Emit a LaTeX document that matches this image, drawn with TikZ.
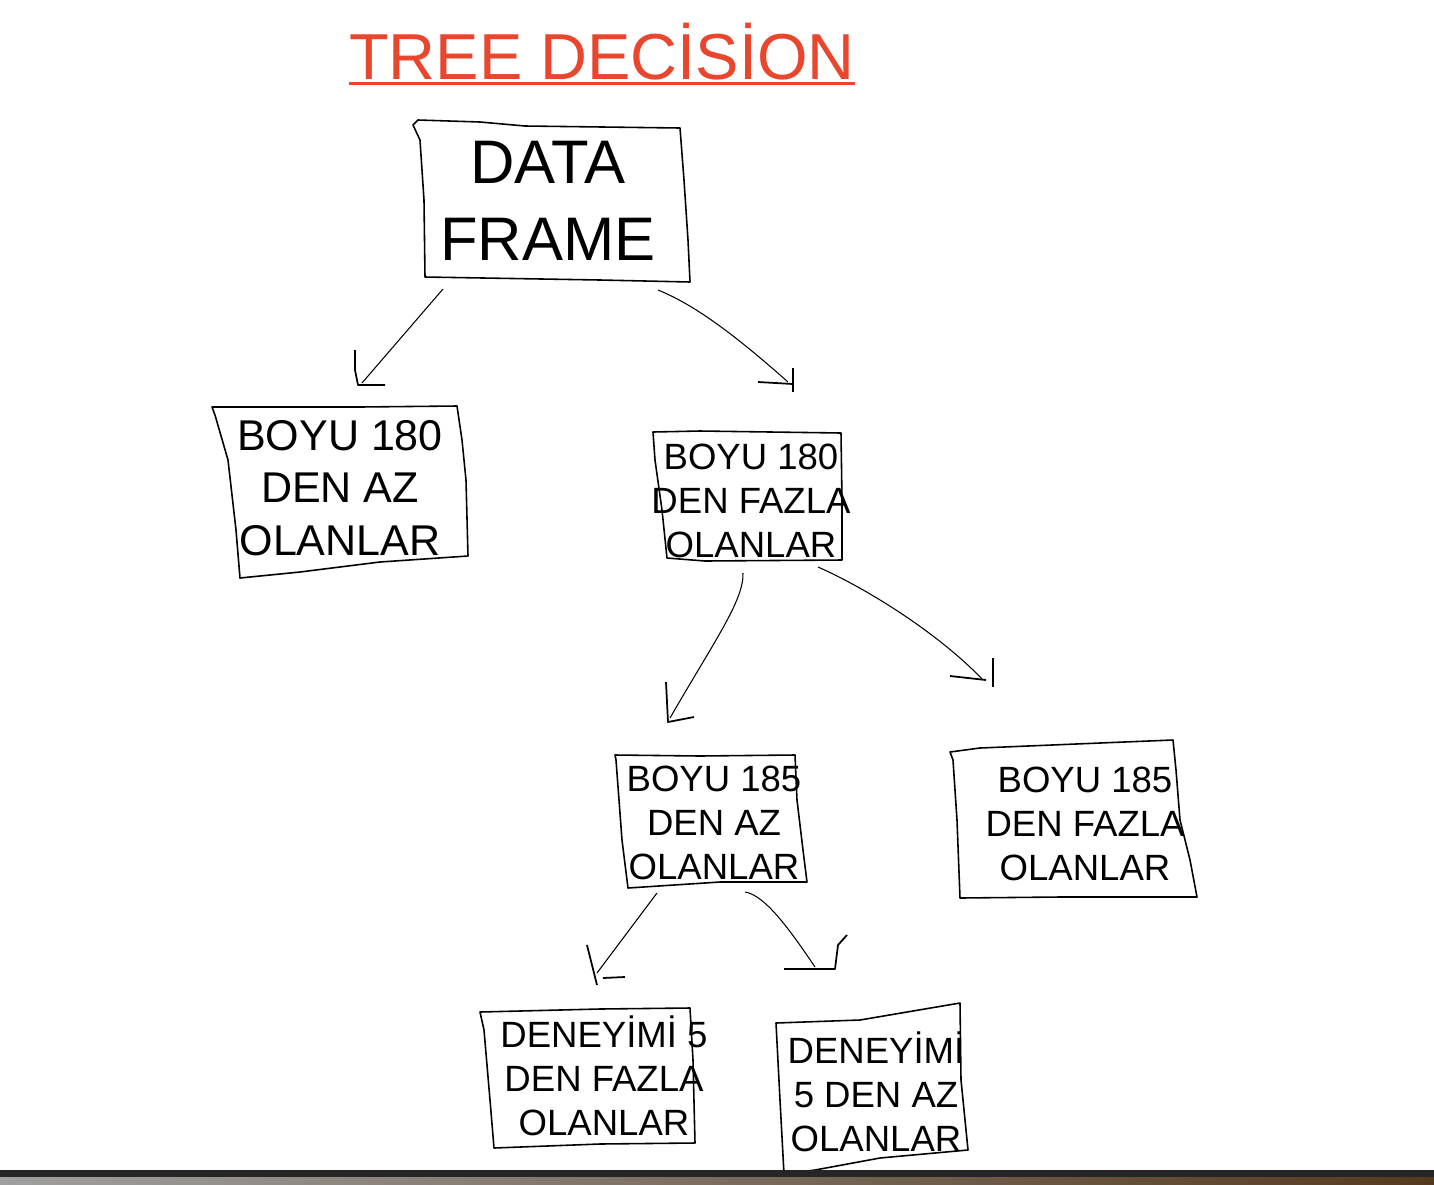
\documentclass[tikz,border=0pt]{standalone}
\usepackage{fontspec}
\setmainfont{Liberation Sans}
\usepackage{xcolor}
\usepackage{tikz}
\definecolor{titlered}{HTML}{E9462D}
\tikzstyle{headline} = [text=titlered, font=\fontsize{37}{44}\selectfont, inner sep=0pt, anchor=base]
\tikzstyle{bigbox} = [align=center, inner sep=0pt, font=\fontsize{35}{43.8}\selectfont]
\tikzstyle{midbox} = [align=center, inner sep=0pt, font=\fontsize{24.5}{29.9}\selectfont]
\tikzstyle{smallbox} = [align=center, inner sep=0pt, font=\fontsize{20.8}{25}\selectfont]
\tikzstyle{hand} = [line width=0.9pt, line join=round]
\tikzstyle{arrowline} = [line width=0.6pt]
\tikzstyle{barb} = [line width=1pt, line join=round]

\begin{document}
\begin{tikzpicture}[x=0.02cm, y=-0.02cm]
  \fill[white] (0,0) rectangle (1434,1184);
  \useasboundingbox (0,0) rectangle (1434,1184);

  % title
  \node (title) [headline] at (602,79) {TREE DEC\.ISİON};
  \draw [titlered, line width=1.7pt] ([yshift=-2.5pt]title.base west) -- ([yshift=-2.5pt]title.base east);

  % texts of the boxes
  \node (df)       [bigbox]   at (548,201)  {DATA\\FRAME};
  \node (az180)    [midbox]   at (340,488)  {BOYU 180\\DEN AZ\\OLANLAR};
  \node (fazla180) [smallbox] at (751,501)  {BOYU 180\\DEN FAZLA\\OLANLAR};
  \node (az185)    [smallbox] at (714,823)  {BOYU 185\\DEN AZ\\OLANLAR};
  \node (fazla185) [smallbox] at (1085,824) {BOYU 185\\DEN FAZLA\\OLANLAR};
  \node (fazla5)   [smallbox] at (604,1076) {DENEYİMİ 5\\DEN FAZLA\\OLANLAR};
  \node (az5)      [smallbox] at (876,1092) {DENEYİMİ\\5 DEN AZ\\OLANLAR};

  % hand drawn frames
  \draw [hand] (418,120) -- (480,122) -- (525,126) -- (680,128) -- (684,180) -- (688,240) -- (690,282)
    -- (600,280) -- (425,277) -- (424,200) -- (420,140) -- (413,125) -- cycle;
  \draw [hand] (212,407) -- (360,407) -- (457,406) -- (462,440) -- (466,480) -- (468,556)
    -- (380,562) -- (300,572) -- (240,578) -- (236,530) -- (228,460) -- (215,415) -- cycle;
  \draw [hand] (653,432) -- (700,431) -- (841,433) -- (842,500) -- (842,560)
    -- (705,561) -- (667,558) -- (662,510) -- (655,460) -- cycle;
  \draw [hand] (615,755) -- (700,756) -- (795,755) -- (797,800) -- (803,850) -- (807,882)
    -- (720,882) -- (628,888) -- (622,840) -- (616,760) -- cycle;
  \draw [hand] (950,752) -- (980,748) -- (1100,743) -- (1173,740) -- (1176,770) -- (1180,820)
    -- (1190,860) -- (1197,897) -- (1060,897) -- (960,898) -- (957,820) -- (953,760) -- cycle;
  \draw [hand] (480,1012) -- (600,1009) -- (690,1008) -- (693,1060) -- (695,1143)
    -- (600,1144) -- (494,1148) -- (490,1100) -- (484,1030) -- cycle;
  \draw [hand] (776,1023) -- (860,1020) -- (960,1003) -- (961,1080) -- (968,1150)
    -- (880,1158) -- (815,1170) -- (784,1174) -- (780,1100) -- cycle;

  % ends of the connectors
  \coordinate (df-l)        at (443,289);
  \coordinate (df-r)        at (658,290);
  \coordinate (az180-in)    at (362,383);
  \coordinate (fazla180-in) at (788,382);
  \coordinate (fazla180-l)  at (743,573);
  \coordinate (fazla180-r)  at (818,567);
  \coordinate (az185-in)    at (670,718);
  \coordinate (fazla185-in) at (982,679);
  \coordinate (az185-l)     at (657,893);
  \coordinate (az185-r)     at (745,892);
  \coordinate (fazla5-in)   at (597,973);
  \coordinate (az5-in)      at (815,967);

  % connectors
  \draw [arrowline] (df-l) -- (az180-in);
  \draw [arrowline] (df-r) .. controls (695,305) and (735,335) .. (fazla180-in);
  \draw [arrowline] (fazla180-l) .. controls (744,600) and (715,640) .. (az185-in);
  \draw [arrowline] (fazla180-r) .. controls (870,590) and (940,635) .. (fazla185-in);
  \draw [arrowline] (az185-l) -- (fazla5-in);
  \draw [arrowline] (az185-r) .. controls (765,895) and (790,930) .. (az5-in);

  % hand drawn heads
  \draw [barb] (az180-in) ++(-7,-33) -- ++(0,20) -- ++(3,15) -- ++(27,0);
  \draw [barb] (fazla180-in) ++(-30,0) -- ++(35,2);
  \draw [barb] (fazla180-in) ++(5,-14) -- ++(0,24);
  \draw [barb] (az185-in) ++(-4,-36) -- ++(2,40) -- ++(26,-5);
  \draw [barb] (fazla185-in) ++(-32,-3) -- ++(36,4);
  \draw [barb] (fazla185-in) ++(11,-21) -- ++(0,29);
  \draw [barb] (fazla5-in) ++(-10,-28) -- ++(10,40);
  \draw [barb] (fazla5-in) ++(6,5) -- ++(22,-1);
  \draw [barb] (az5-in) ++(-31,2) -- ++(31,0) -- ++(20,0) -- ++(3,-24) -- ++(9,-10);

  % bottom strip
  \fill [black!85] (0,1170) rectangle (1434,1177);
  \shade [left color=gray!75, right color=brown!45!black] (0,1177) rectangle (1434,1184);
\end{tikzpicture}
\end{document}
